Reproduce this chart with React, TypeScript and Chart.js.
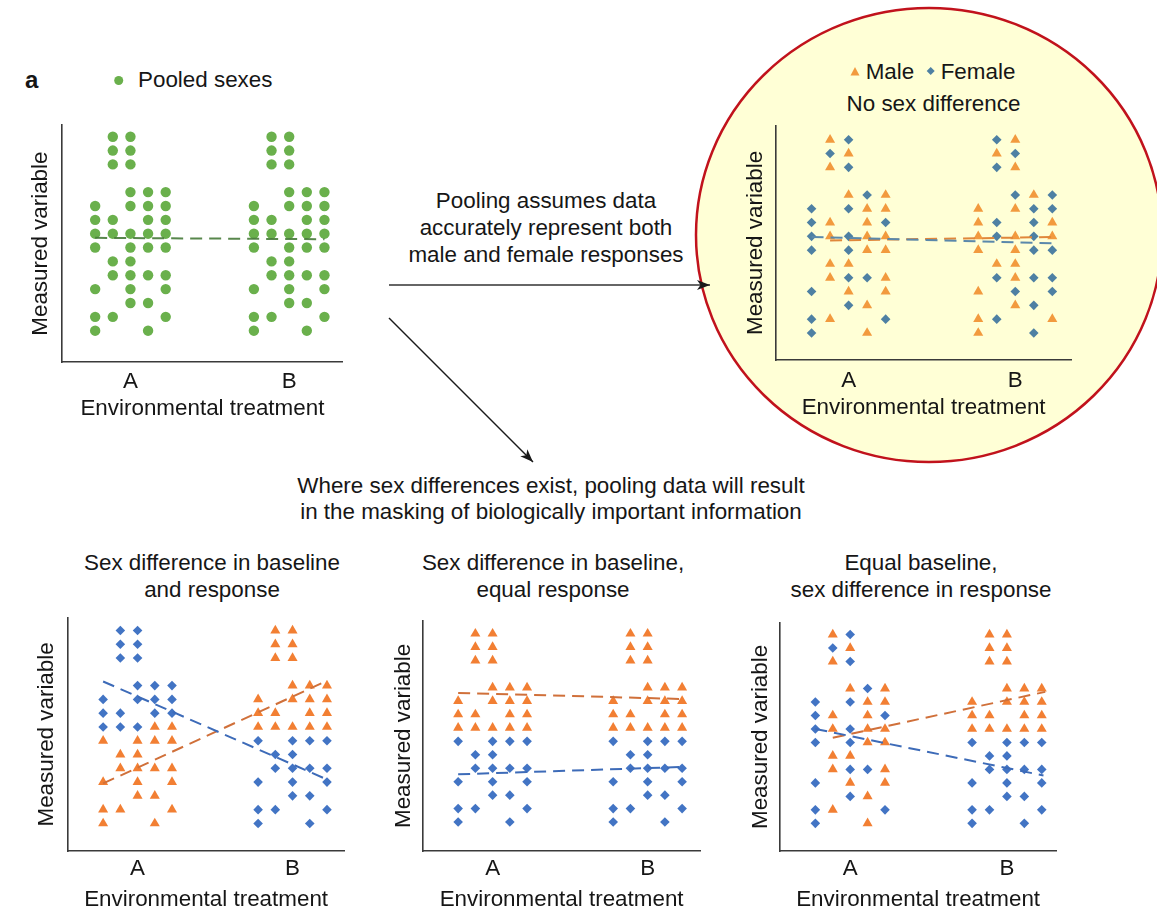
import React, { useEffect, useRef } from 'react';
import { Chart, registerables } from 'chart.js';

Chart.register(...registerables);

const FONT = '"Liberation Sans", Arial, Helvetica, sans-serif';
const TEXT = '#161616';
const AXIS = '#3a3a3a';
const FONT_SIZE = 22.4;

// Treatments on the x axis and the x value each group is centred on.
const TREATMENTS = ['A', 'B'];
const TREATMENT_X = [10, 19];

// Each group is a grid: row 0 is response level 14, row 14 is level 0;
// the five columns are jitter offsets -2..+2 around the treatment.
// 'o' pooled animal, 'm' male, 'f' female, '.' nothing.
const POOLED_A = [
  '.oo..', '.oo..', '.oo..', '.....', '..ooo', 'o.ooo', 'oo.oo', 'ooooo',
  'o.ooo', '.oo..', '.oooo', 'o.o.o', '..oo.', 'oo..o', 'o..o.',
];
const POOLED_B = [
  '.oo..', '.oo..', '.oo..', '.....', '..ooo', 'o.ooo', 'oo.oo', 'ooooo',
  'o.ooo', '.oo..', '.oooo', 'o.o.o', '..oo.', 'oo..o', 'o..o.',
];
const NO_DIFF_A = [
  '.mf..', '.fm..', '.mf..', '.....', '..mfm', 'f.fmm', 'fm.mf', 'fmfmm',
  'f.fmm', '.mm..', '.mffm', 'f.m.m', '..fm.', 'fm..f', 'f..m.',
];
const NO_DIFF_B = [
  '.fm..', '.mf..', '.fm..', '.....', '..fmf', 'm.mff', 'mf.fm', 'mfmfm',
  'm.mff', '.mm..', '.fmff', 'm.f.f', '..mf.', 'mf..m', 'm..f.',
];
const BASE_RESP_A = [
  '.ff..', '.ff..', '.ff..', '.....', '..fff', 'f.fff', 'ff.ff', 'fffmm',
  'm.mmm', '.mm..', '.mmmm', 'm.m.m', '..mm.', 'mm..m', 'm..m.',
];
const BASE_RESP_B = [
  '.mm..', '.mm..', '.mm..', '.....', '..mmm', 'm.mmm', 'mm.mm', 'mmmmm',
  'f.fff', '.ff..', '.ffff', 'f.f.f', '..ff.', 'ff..f', 'f..f.',
];
const BASE_ONLY_A = [
  '.mm..', '.mm..', '.mm..', '.....', '..mmm', 'm.mmm', 'mm.mm', 'mmmmm',
  'f.fff', '.ff..', '.ffff', 'f.f.f', '..ff.', 'ff..f', 'f..f.',
];
const BASE_ONLY_B = [
  '.mm..', '.mm..', '.mm..', '.....', '..mmm', 'm.mmm', 'mm.mm', 'mmmmm',
  'f.fff', '.ff..', '.ffff', 'f.f.f', '..ff.', 'ff..f', 'f..f.',
];
const RESP_ONLY_A = [
  '.mf..', '.fm..', '.mf..', '.....', '..mfm', 'f.fmm', 'fm.mf', 'fmfmm',
  'f.fmm', '.mm..', '.mffm', 'f.m.m', '..fm.', 'fm..f', 'f..m.',
];
const RESP_ONLY_B = [
  '.mm..', '.mm..', '.mm..', '.....', '..mmm', 'm.mmm', 'mm.mm', 'mmmmm',
  'f.fff', '.ff..', '.ffff', 'f.f.f', '..ff.', 'ff..f', 'f..f.',
];

// Fitted trend lines: [x, level] at each end.
const POOLED_TREND = [[8, 6.7], [21, 6.6]];
const NO_DIFF_MALE_TREND = [[9, 6.7], [21, 6.95]];
const NO_DIFF_FEMALE_TREND = [[8, 6.95], [21, 6.5]];
const BASE_RESP_MALE_TREND = [[8, 2.9], [21, 10.35]];
const BASE_RESP_FEMALE_TREND = [[8, 10.3], [20.8, 3.3]];
const BASE_ONLY_MALE_TREND = [[8, 9.6], [20.9, 9.15]];
const BASE_ONLY_FEMALE_TREND = [[8, 3.55], [21.1, 4.1]];
const RESP_ONLY_MALE_TREND = [[9, 6.35], [21.2, 9.75]];
const RESP_ONLY_FEMALE_TREND = [[8, 7.0], [21.1, 3.55]];

const TOP_LEVEL = 14;

function groupPoints(rows: string[], code: string, centre: number) {
  const pts: { x: number; y: number }[] = [];
  rows.forEach((row, r) => {
    row.split('').forEach((ch, c) => {
      if (ch === code) pts.push({ x: centre + c - 2, y: TOP_LEVEL - r });
    });
  });
  return pts;
}

type Series = { label: string; groups: string[][]; code: string; style: string; radius: number; color: string };
type Trend = { points: number[][]; color: string; dash: number[] };
type PanelSpec = {
  left: number; top: number; width: number; height: number;
  yAxisW: number; xAxisH: number; tickPad: number;
  xMin: number; xMax: number; yMin: number; yMax: number;
  series: Series[]; trends: Trend[];
};

const GREEN = '#6ab04c';
const GREEN_LINE = 'rgba(70,122,56,0.9)';
const SOFT_MALE = '#f29a3e';
const SOFT_FEMALE = '#4e80a3';
const MALE = '#f27f33';
const FEMALE = '#4274c4';
const MALE_LINE = '#d0703a';
const FEMALE_LINE = '#3d6bb8';
const DASH = [12, 7];

const sexSeries = (a: string[], b: string[], male: string, female: string): Series[] => [
  { label: 'Female', groups: [a, b], code: 'f', style: 'rectRot', radius: 4.8, color: female },
  { label: 'Male', groups: [a, b], code: 'm', style: 'triangle', radius: 5.8, color: male },
];

const PANELS: PanelSpec[] = [
  {
    left: 27, top: 120, width: 321, height: 302, yAxisW: 35, xAxisH: 60, tickPad: 6.3,
    xMin: 6.12, xMax: 22.04, yMin: -2.26, yMax: 14.83,
    series: [{ label: 'Pooled sexes', groups: [POOLED_A, POOLED_B], code: 'o', style: 'circle', radius: 5.2, color: GREEN }],
    trends: [{ points: POOLED_TREND, color: GREEN_LINE, dash: DASH }],
  },
  {
    left: 742, top: 120, width: 335, height: 301, yAxisW: 34, xAxisH: 61, tickPad: 7.6,
    xMin: 6.08, xMax: 22.02, yMin: -1.96, yMax: 15.01,
    series: sexSeries(NO_DIFF_A, NO_DIFF_B, SOFT_MALE, SOFT_FEMALE),
    trends: [
      { points: NO_DIFF_FEMALE_TREND, color: '#5a88ab', dash: DASH },
      { points: NO_DIFF_MALE_TREND, color: '#e0873a', dash: DASH },
    ],
  },
  {
    left: 33, top: 612, width: 317, height: 301, yAxisW: 35, xAxisH: 62, tickPad: 3.9,
    xMin: 5.96, xMax: 22.0, yMin: -2.0, yMax: 14.92,
    series: sexSeries(BASE_RESP_A, BASE_RESP_B, MALE, FEMALE),
    trends: [
      { points: BASE_RESP_FEMALE_TREND, color: FEMALE_LINE, dash: DASH },
      { points: BASE_RESP_MALE_TREND, color: MALE_LINE, dash: DASH },
    ],
  },
  {
    left: 390, top: 615, width: 316, height: 298, yAxisW: 33, xAxisH: 62, tickPad: 3.9,
    xMin: 5.96, xMax: 22.05, yMin: -2.15, yMax: 14.96,
    series: sexSeries(BASE_ONLY_A, BASE_ONLY_B, MALE, FEMALE),
    trends: [
      { points: BASE_ONLY_FEMALE_TREND, color: FEMALE_LINE, dash: DASH },
      { points: BASE_ONLY_MALE_TREND, color: MALE_LINE, dash: DASH },
    ],
  },
  {
    left: 747, top: 617, width: 315, height: 296, yAxisW: 33, xAxisH: 62, tickPad: 3.9,
    xMin: 5.97, xMax: 21.83, yMin: -2.05, yMax: 14.87,
    series: sexSeries(RESP_ONLY_A, RESP_ONLY_B, MALE, FEMALE),
    trends: [
      { points: RESP_ONLY_FEMALE_TREND, color: FEMALE_LINE, dash: DASH },
      { points: RESP_ONLY_MALE_TREND, color: MALE_LINE, dash: DASH },
    ],
  },
];

const AXIS_FONT = { family: FONT, size: FONT_SIZE, lineHeight: 1.2 };

function ScatterPanel({ spec }: { spec: PanelSpec }) {
  const ref = useRef<HTMLCanvasElement>(null);
  useEffect(() => {
    const canvas = ref.current;
    if (!canvas) return;
    const datasets: any[] = [];
    spec.trends.forEach((t) =>
      datasets.push({
        label: 'trend',
        data: t.points.map(([x, y]) => ({ x, y })),
        showLine: true,
        borderColor: t.color,
        borderWidth: 2,
        borderDash: t.dash,
        pointRadius: 0,
        order: 0,
      })
    );
    spec.series.forEach((s) =>
      datasets.push({
        label: s.label,
        data: [
          ...groupPoints(s.groups[0], s.code, TREATMENT_X[0]),
          ...groupPoints(s.groups[1], s.code, TREATMENT_X[1]),
        ],
        showLine: false,
        pointStyle: s.style,
        pointRadius: s.radius,
        backgroundColor: s.color,
        borderWidth: 0,
        order: 1,
      })
    );
    const chart = new Chart(canvas, {
      type: 'scatter',
      data: { datasets },
      options: {
        responsive: false,
        animation: false,
        events: [],
        layout: { padding: 0 },
        plugins: { legend: { display: false }, tooltip: { enabled: false }, title: { display: false } },
        scales: {
          x: {
            type: 'linear',
            min: spec.xMin,
            max: spec.xMax,
            grid: { display: false, drawTicks: false },
            border: { display: true, color: AXIS, width: 1.6 },
            afterBuildTicks: (scale: any) => {
              scale.ticks = TREATMENT_X.map((v) => ({ value: v }));
            },
            afterFit: (scale: any) => {
              scale.height = spec.xAxisH;
            },
            ticks: {
              autoSkip: false,
              maxRotation: 0,
              padding: spec.tickPad,
              color: TEXT,
              font: AXIS_FONT,
              callback: (value: any) => TREATMENTS[TREATMENT_X.indexOf(Number(value))] ?? '',
            },
            title: { display: true, text: 'Environmental treatment', color: TEXT, font: AXIS_FONT, padding: 0 },
          },
          y: {
            type: 'linear',
            min: spec.yMin,
            max: spec.yMax,
            grid: { display: false, drawTicks: false },
            border: { display: true, color: AXIS, width: 1.6 },
            ticks: { display: false },
            afterFit: (scale: any) => {
              scale.width = spec.yAxisW;
            },
            title: { display: true, text: 'Measured variable', color: TEXT, font: AXIS_FONT, padding: 0 },
          },
        },
      } as any,
    });
    return () => chart.destroy();
  }, [spec]);
  return (
    <canvas
      ref={ref}
      width={spec.width}
      height={spec.height}
      style={{ position: 'absolute', left: spec.left, top: spec.top, width: spec.width, height: spec.height }}
    />
  );
}

function TextBlock({ x, top, lines, lineHeight, size = FONT_SIZE, weight = 400 }: { x: number; top: number; lines: string[]; lineHeight: number; size?: number; weight?: number }) {
  return (
    <div
      style={{
        position: 'absolute',
        left: x,
        top,
        transform: 'translateX(-50%)',
        fontFamily: FONT,
        fontSize: size,
        fontWeight: weight,
        lineHeight: `${lineHeight}px`,
        color: TEXT,
        textAlign: 'center',
        whiteSpace: 'nowrap',
      }}
    >
      {lines.map((l, i) => (
        <div key={i}>{l}</div>
      ))}
    </div>
  );
}

function LeftText({ x, y, text, size = FONT_SIZE, weight = 400 }: { x: number; y: number; text: string; size?: number; weight?: number }) {
  return (
    <div
      style={{
        position: 'absolute',
        left: x,
        top: y - (size * 1.2) / 2,
        fontFamily: FONT,
        fontSize: size,
        fontWeight: weight,
        lineHeight: `${size * 1.2}px`,
        color: TEXT,
        whiteSpace: 'nowrap',
      }}
    >
      {text}
    </div>
  );
}

export default function App() {
  return (
    <div style={{ position: 'fixed', left: 0, top: 0, width: 1157, height: 913, overflow: 'hidden', background: '#ffffff' }}>
      <svg width={1157} height={913} style={{ position: 'absolute', left: 0, top: 0 }}>
        <defs>
          <marker id="head" markerUnits="userSpaceOnUse" markerWidth="14" markerHeight="10" refX="13" refY="5" orient="auto">
            <path d="M0,0 L13,5 L0,10 L3.5,5 Z" fill="#1a1a1a" />
          </marker>
        </defs>
        <ellipse cx={929} cy={235} rx={233} ry={227} fill="#ffffd6" stroke="#c1121c" strokeWidth={2.5} />
        <line x1={389} y1={285} x2={710} y2={285} stroke="#333" strokeWidth={1.6} markerEnd="url(#head)" />
        <line x1={389} y1={318} x2={533} y2={462} stroke="#1a1a1a" strokeWidth={1.5} markerEnd="url(#head)" />
        <circle cx={118.7} cy={80.5} r={4.5} fill={GREEN} />
        <polygon points="850.5,75.5 859.5,75.5 855,67" fill={SOFT_MALE} />
        <polygon points="930.7,67 934.7,71 930.7,75 926.7,71" fill={SOFT_FEMALE} />
      </svg>

      <LeftText x={25} y={80} text="a" size={24} weight={700} />
      <LeftText x={138} y={80.5} text="Pooled sexes" />
      <LeftText x={865.7} y={72} text="Male" />
      <LeftText x={940.7} y={72} text="Female" />
      <TextBlock x={933.5} top={104 - 13.4} lines={['No sex difference']} lineHeight={26.8} />

      <TextBlock x={546} top={200 - 13.5} lineHeight={27} lines={['Pooling assumes data', 'accurately represent both', 'male and female responses']} />
      <TextBlock x={551} top={486 - 13} lineHeight={26} lines={['Where sex differences exist, pooling data will result', 'in the masking of biologically important information']} />

      <TextBlock x={212} top={562 - 13.5} lineHeight={27} lines={['Sex difference in baseline', 'and response']} />
      <TextBlock x={553} top={562 - 13.5} lineHeight={27} lines={['Sex difference in baseline,', 'equal response']} />
      <TextBlock x={921} top={562 - 13.5} lineHeight={27} lines={['Equal baseline,', 'sex difference in response']} />

      {PANELS.map((p, i) => (
        <ScatterPanel key={i} spec={p} />
      ))}
    </div>
  );
}
